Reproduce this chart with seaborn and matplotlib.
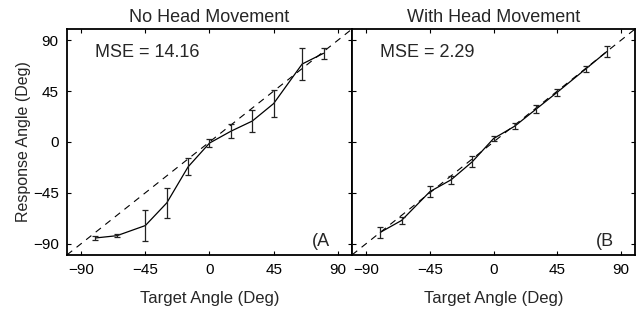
import numpy as np
import pandas as pd
import matplotlib
matplotlib.use("Agg")
import matplotlib.pyplot as plt
import seaborn as sns

target = [-80, -65, -45, -30, -15, 0, 15, 30, 45, 65, 80]
resp_no_head = [-85, -83, -74, -54, -22, -1, 9.5, 18.5, 34, 69, 78.5]
err_no_head = [2, 1.5, 14, 13, 7.5, 3.7, 6.4, 10, 12, 14.5, 5]
resp_head = [-80, -69.5, -44, -33.5, -17.5, 3, 14, 29, 44, 64.5, 80]
err_head = [5, 3, 5, 3.5, 5, 2, 2.5, 3.5, 3, 3, 4.7]
titles = ["No Head Movement", "With Head Movement"]
mse_texts = ["MSE = 14.16", "MSE = 2.29"]
panel_tags = ["(A", "(B"]
ticks = [-90, -45, 0, 45, 90]
tick_labels = ["\u221290", "\u221245", "0", "45", "90"]

sns.set_theme(style="ticks")
plt.rcParams["font.family"] = ["Liberation Sans", "DejaVu Sans"]

fig = plt.figure(figsize=(6.36, 3.12), dpi=100)
ax1 = fig.add_axes([0.1053, 0.183, 0.5535 - 0.1053, 0.907 - 0.183])
ax2 = fig.add_axes([0.5535, 0.183, 0.9985 - 0.5535, 0.907 - 0.183])

datasets = [(resp_no_head, err_no_head), (resp_head, err_head)]
for i, (ax, (resp, err)) in enumerate(zip([ax1, ax2], datasets)):
    df = pd.DataFrame({"target": target, "response": resp, "err": err})
    ax.plot([-100, 100], [-100, 100], color="black", lw=0.8, ls=(0, (6, 5)))
    sns.lineplot(data=df, x="target", y="response", ax=ax, color="black",
                 lw=0.9, estimator=None, sort=False)
    ax.errorbar(df["target"], df["response"], yerr=df["err"], fmt="none",
                ecolor="#222222", elinewidth=0.9, capsize=2.2, capthick=0.9)
    ax.set_xlim(-100, 100)
    ax.set_ylim(-100, 100)
    ax.set_xticks(ticks)
    ax.set_xticklabels(tick_labels, fontsize=11)
    ax.set_yticks(ticks)
    ax.tick_params(direction="in", length=3, width=0.8, top=True, right=True,
                   colors="black", pad=6)
    for s in ax.spines.values():
        s.set_linewidth(1.3)
        s.set_color("black")
    ax.set_title(titles[i], fontsize=13, pad=5)
    ax.set_xlabel("Target Angle (Deg)", fontsize=12, labelpad=10)
    ax.text(-80, 79, mse_texts[i], fontsize=13, va="center", ha="left")
    ax.text(72, -88, panel_tags[i], fontsize=13, va="center", ha="left")

ax1.set_yticklabels(tick_labels, fontsize=11)
ax1.set_ylabel("Response Angle (Deg)", fontsize=11.5, labelpad=1)
ax2.set_yticklabels([])
ax2.set_ylabel("")

fig.savefig("out.png", dpi=100)
